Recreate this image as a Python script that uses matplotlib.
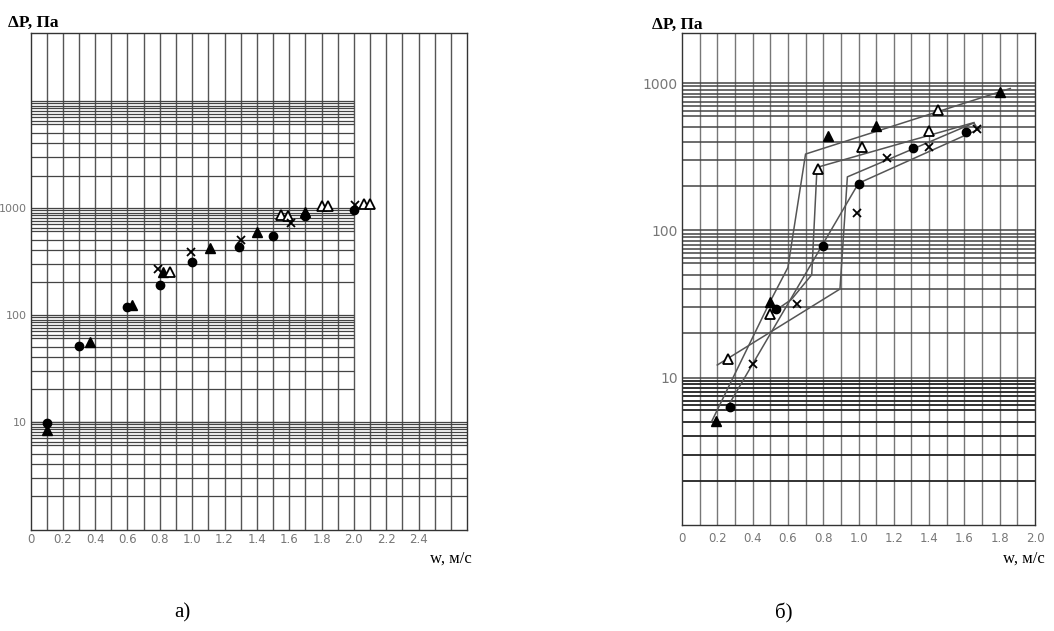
import numpy as np
import matplotlib
matplotlib.use("Agg")
import matplotlib.pyplot as plt

# ---- panel a) data: w (m/s), dP (Pa)
a_circle_w = [0.10, 0.30, 0.60, 0.80, 1.00, 1.29, 1.50, 1.70, 2.00]
a_circle_dp = [9.8, 51, 119, 190, 308, 429, 540, 830, 958]
a_tri_w = [0.10, 0.37, 0.63, 0.82, 1.11, 1.40, 1.70]
a_tri_dp = [8.4, 55, 124, 253, 420, 587, 910]
a_otri_w = [0.86, 1.55, 1.59, 1.80, 1.84, 2.06, 2.10]
a_otri_dp = [253, 860, 829, 1028, 1044, 1090, 1090]
a_cross_w = [0.79, 0.99, 1.30, 1.61, 2.01]
a_cross_dp = [267, 382, 502, 719, 1067]

# ---- panel b) data
b_tri_w = [0.19, 0.50, 0.83, 1.10, 1.80]
b_tri_dp = [5.05, 32.5, 438, 510, 873]
b_otri_w = [0.26, 0.50, 0.77, 1.02, 1.40, 1.45]
b_otri_dp = [13.4, 27, 263, 369, 471, 662]
b_circle_w = [0.27, 0.53, 0.80, 1.00, 1.31, 1.61]
b_circle_dp = [6.3, 29.5, 79, 208, 360, 467]
b_cross_w = [0.40, 0.65, 0.99, 1.16, 1.40, 1.67]
b_cross_dp = [12.3, 31.7, 131, 312, 369, 487]

# envelope lines drawn on panel b)
b_line1_w = [0.17, 0.50, 0.60, 0.70, 1.86]
b_line1_dp = [5.1, 33, 56, 330, 920]
b_line2_w = [0.20, 0.895, 0.937, 1.654, 1.68]
b_line2_dp = [12.2, 40, 231, 537, 480]
b_line3_w = [0.25, 1.00, 1.69]
b_line3_dp = [6.1, 209, 492]
b_line4_w = [0.50, 0.62, 0.735, 0.765, 1.654]
b_line4_dp = [27, 34, 50, 268, 540]

a_xticks = [0, 0.2, 0.4, 0.6, 0.8, 1.0, 1.2, 1.4, 1.6, 1.8, 2.0, 2.2, 2.4]
b_xticks = [0, 0.2, 0.4, 0.6, 0.8, 1.0, 1.2, 1.4, 1.6, 1.8, 2.0]
yticks = [10, 100, 1000]

W, H = 1054, 631
fig = plt.figure(figsize=(W / 100, H / 100), dpi=100)
fig.patch.set_facecolor("white")

tick_font = ["Liberation Sans Narrow", "DejaVu Sans"]
serif = ["Liberation Serif", "DejaVu Serif"]
minors = [1, 2, 3, 4, 5, 6, 6.5, 7, 7.5, 8, 8.5, 9, 9.5]


def px_axes(l, t, r, b):
    return fig.add_axes([l / W, 1 - b / H, (r - l) / W, (b - t) / H])


def log_lines(decades):
    vals = []
    for d in decades:
        vals += [m * d for m in minors]
    return vals


def setup(ax, xmax, ylim, xticks, ytick_size, xpad, vcolor):
    ax.set_yscale("log")
    ax.set_xlim(0, xmax)
    ax.set_ylim(*ylim)
    ax.set_xticks(xticks)
    ax.set_xticklabels(["0" if v == 0 else f"{v:.1f}" for v in xticks],
                       family=tick_font, fontsize=8.5, color="#777777")
    ax.set_yticks(yticks)
    ax.set_yticklabels([str(v) for v in yticks], family=tick_font,
                       fontsize=ytick_size, color="#777777")
    ax.yaxis.set_minor_locator(matplotlib.ticker.NullLocator())
    ax.tick_params(length=0)
    ax.tick_params(axis="x", pad=xpad)
    ax.tick_params(axis="y", pad=3)
    for s in ax.spines.values():
        s.set_color("#333333")
        s.set_linewidth(1.0)
    for v in np.arange(0.1, xmax - 0.01, 0.1):
        ax.axvline(v, color=vcolor, lw=1.0, zorder=1)


def markers(ax, cw, cd, tw, td, ow, od, xw, xd, ms=6):
    ax.plot(cw, cd, "o", color="black", ms=ms, zorder=5)
    ax.plot(tw, td, "^", color="black", ms=ms + 0.5, zorder=5)
    ax.plot(ow, od, "^", mfc="white", mec="black", mew=1.3, ms=ms + 0.5, zorder=5)
    ax.plot(xw, xd, "x", color="black", mew=1.3, ms=ms, zorder=5)


# ---- panel a)
ax1 = px_axes(30.5, 33, 467, 530)
setup(ax1, 2.7, (0.97, 43000), a_xticks, 8, 2.5, "#555555")
full = log_lines([1])[1:] + [10]
part = log_lines([10, 100, 1000]) + [10000]
ax1.hlines(full, 0, 2.7, color="#444444", lw=0.9, zorder=1)
ax1.hlines(part, 0, 2.0, color="#444444", lw=0.9, zorder=1)
markers(ax1, a_circle_w, a_circle_dp, a_tri_w, a_tri_dp,
        a_otri_w, a_otri_dp, a_cross_w, a_cross_dp)

# ---- panel b)
ax2 = px_axes(682, 33, 1035, 525)
setup(ax2, 2.0, (1.0, 2190), b_xticks, 10, 5, "#777777")
ax2.hlines(log_lines([1])[1:], 0, 2.0, color="#222222", lw=1.3, zorder=1)
ax2.hlines(log_lines([10, 100]) + [1000], 0, 2.0, color="#444444", lw=1.1, zorder=1)
for lw_, ld_ in [(b_line1_w, b_line1_dp), (b_line2_w, b_line2_dp),
                 (b_line3_w, b_line3_dp), (b_line4_w, b_line4_dp)]:
    ax2.plot(lw_, ld_, color="#555555", lw=1.1, zorder=3)
markers(ax2, b_circle_w, b_circle_dp, b_tri_w, b_tri_dp,
        b_otri_w, b_otri_dp, b_cross_w, b_cross_dp)

# ---- labels
def ftext(x, y, s, **kw):
    fig.text(x / W, 1 - y / H, s, **kw)


ftext(8, 22.5, "ΔP, Па", family=serif, fontsize=12.5, fontweight="bold",
      va="center", ha="left")
ftext(652, 25, "ΔP, Па", family=serif, fontsize=12.5, fontweight="bold",
      va="center", ha="left")
ftext(430, 559, "w, м/с", family=serif, fontsize=12, va="center", ha="left")
ftext(1003, 559, "w, м/с", family=serif, fontsize=12, va="center", ha="left")
ftext(182, 613, "а)", family=serif, fontsize=15, va="center", ha="center")
ftext(784, 613, "б)", family=serif, fontsize=15, va="center", ha="center")

fig.savefig("out.png", dpi=100, facecolor="white")
